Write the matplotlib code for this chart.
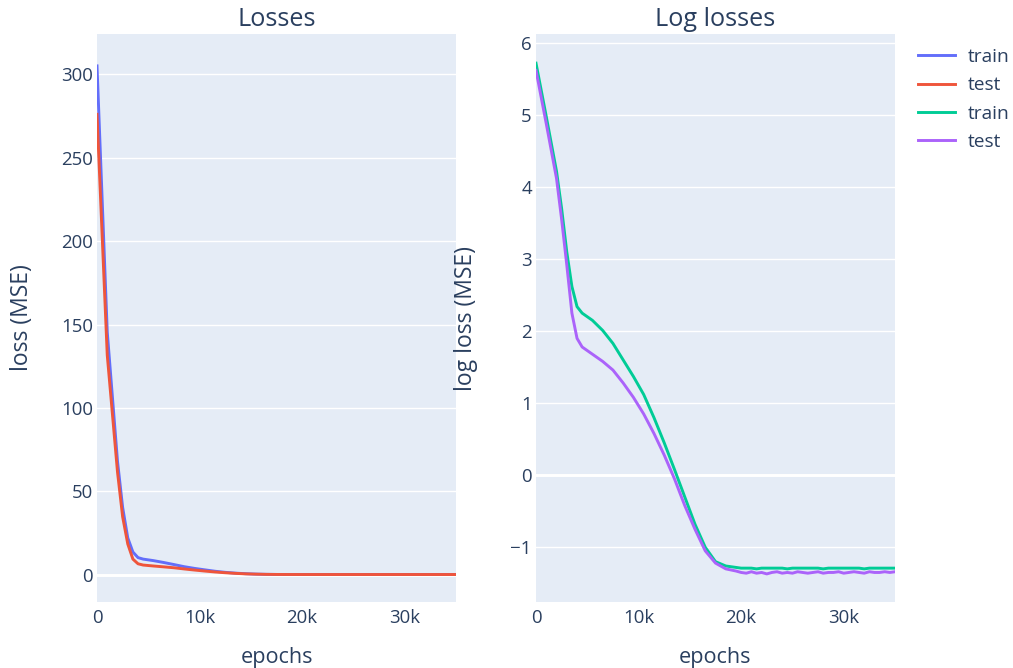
import numpy as np
import matplotlib
matplotlib.use("Agg")
from matplotlib import pyplot as plt
from matplotlib.ticker import FuncFormatter, MultipleLocator

plt.rcParams['font.family'] = ['Open Sans', 'DejaVu Sans']

TEXT = '#2a3f5f'
BG = '#e5ecf6'
BLUE = '#636efa'
RED = '#ef553b'
GREEN = '#00cc96'
PURPLE = '#ab63fa'
LW = 2.1

# log of the MSE, read per epoch
epochs_head = [0, 1000, 2000, 2500, 3000, 3500, 4000, 4500, 5500, 6500, 7500,
               8500, 9500, 10500, 11500, 12500, 13500, 14500, 15500, 16500,
               17500, 18500, 19500]
train_log_head = [5.72, 4.98, 4.22, 3.70, 3.10, 2.62, 2.34, 2.25, 2.15, 2.01, 1.83,
                  1.60, 1.37, 1.12, 0.80, 0.45, 0.08, -0.30, -0.68, -1.00,
                  -1.20, -1.26, -1.28]
test_log_head = [5.62, 4.88, 4.12, 3.55, 2.92, 2.25, 1.90, 1.78, 1.68, 1.58, 1.46,
                 1.28, 1.08, 0.85, 0.58, 0.28, -0.05, -0.42, -0.75, -1.05,
                 -1.22, -1.30, -1.33]

epochs_tail = list(range(20000, 35001, 500))
train_log_tail = [-1.29, -1.29, -1.29, -1.30, -1.29, -1.29, -1.29, -1.29, -1.29, -1.30,
                  -1.29, -1.29, -1.29, -1.29, -1.29, -1.29, -1.30, -1.29, -1.29, -1.29,
                  -1.29, -1.29, -1.29, -1.29, -1.30, -1.29, -1.29, -1.29, -1.29, -1.29,
                  -1.29]
test_log_tail = [-1.35, -1.36, -1.34, -1.36, -1.35, -1.37, -1.35, -1.34, -1.36, -1.35,
                 -1.36, -1.34, -1.35, -1.36, -1.35, -1.34, -1.36, -1.35, -1.35, -1.34,
                 -1.36, -1.35, -1.34, -1.35, -1.36, -1.34, -1.35, -1.35, -1.34, -1.35,
                 -1.34]

epochs = np.array(epochs_head + epochs_tail)
train_log = np.array(train_log_head + train_log_tail)
test_log = np.array(test_log_head + test_log_tail)
train_loss = np.exp(train_log)
test_loss = np.exp(test_log)

W, H = 1013, 668
fig = plt.figure(figsize=(W / 100, H / 100), dpi=100)
ax1 = fig.add_axes([97 / W, 1 - 602 / H, 359 / W, 568 / H])
ax2 = fig.add_axes([536 / W, 1 - 602 / H, 359 / W, 568 / H])

kfmt = FuncFormatter(lambda v, p: '0' if v == 0 else '%dk' % round(v / 1000))

for ax in (ax1, ax2):
    ax.set_facecolor(BG)
    for s in ax.spines.values():
        s.set_visible(False)
    ax.set_xlim(0, 35000)
    ax.xaxis.set_major_locator(MultipleLocator(10000))
    ax.xaxis.set_major_formatter(kfmt)
    ax.grid(True, axis='y', color='white', lw=1)
    ax.set_axisbelow(True)
    ax.tick_params(length=0, labelsize=13.4, labelcolor=TEXT)
    ax.tick_params(axis='x', pad=5)
    ax.tick_params(axis='y', pad=3)
    ax.set_xlabel('epochs', fontsize=15.6, color=TEXT, va='center')
    ax.xaxis.set_label_coords(0.5, -(657 - 602) / 568)
    ax.axhline(0, color='white', lw=2.1, zorder=1)

ax1.set_ylim(-16.2, 324)
ax1.yaxis.set_major_locator(MultipleLocator(50))
ax1.plot(epochs, train_loss, color=BLUE, lw=LW, label='train')
ax1.plot(epochs, test_loss, color=RED, lw=LW, label='test')
ax1.set_ylabel('loss (MSE)', fontsize=16.5, color=TEXT, va='center')
ax1.yaxis.set_label_coords((22 - 97) / 359, 0.5)
ax1.text(0.5, 1 + 14 / 568, 'Losses', transform=ax1.transAxes, ha='center',
         va='center', fontsize=18.2, color=TEXT)

ax2.set_ylim(-1.76, 6.125)
ax2.yaxis.set_major_locator(MultipleLocator(1))
ax2.plot(epochs, train_log, color=GREEN, lw=LW, label='train')
ax2.plot(epochs, test_log, color=PURPLE, lw=LW, label='test')
ax2.set_ylabel('log loss (MSE)', fontsize=16.5, color=TEXT, va='center')
ax2.yaxis.set_label_coords((466 - 536) / 359, 0.5)
ax2.text(0.5, 1 + 14 / 568, 'Log losses', transform=ax2.transAxes, ha='center',
         va='center', fontsize=18.2, color=TEXT)

handles = list(ax1.get_lines()) + list(ax2.get_lines())
handles = [h for h in handles if h.get_label() in ('train', 'test')]
leg = fig.legend(handles, [h.get_label() for h in handles], loc='upper left',
                 bbox_to_anchor=(918 / W, 1 - 48 / H), frameon=False,
                 fontsize=13.8, handlelength=1.93, handletextpad=0.68,
                 labelspacing=0.54, borderpad=0, borderaxespad=0)
for t in leg.get_texts():
    t.set_color(TEXT)
for l in leg.get_lines():
    l.set_linewidth(LW)

fig.savefig('out.png', dpi=100)
